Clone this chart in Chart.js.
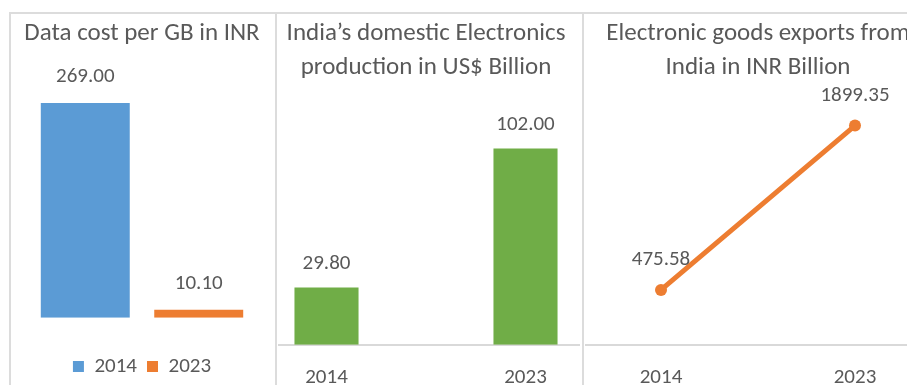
<!DOCTYPE html>
<html><head><meta charset="utf-8">
<script src="https://cdn.jsdelivr.net/npm/chart.js@4.4.1/dist/chart.umd.min.js"></script>
<style>
html,body{margin:0;padding:0;background:#fff;width:907px;height:385px;overflow:hidden;position:relative;}
.line{position:absolute;background:#dcdcdc;}
.clip{position:absolute;overflow:hidden;}
canvas{position:absolute;}
</style></head><body>
<div class="line" style="left:9px;top:12px;width:898px;height:2px"></div>
<div class="line" style="left:9px;top:12px;width:2px;height:373px"></div>
<div class="line" style="left:275px;top:12px;width:2px;height:373px"></div>
<div class="line" style="left:582px;top:12px;width:2px;height:373px"></div>
<div class="clip" style="left:11px;top:14px;width:264px;height:371px"><canvas id="c1" width="264" height="380" style="left:0;top:0"></canvas></div>
<div class="clip" style="left:278px;top:14px;width:302px;height:371px"><canvas id="c2" width="398" height="400" style="left:-51px;top:0"></canvas></div>
<div class="clip" style="left:585px;top:14px;width:322px;height:371px"><canvas id="c3" width="400" height="400" style="left:-27px;top:0"></canvas></div>
<script>
// ---- data ----
const costTitle = 'Data cost per GB in INR';
const costYears = ['2014', '2023'];
const costValues = [269.00, 10.10];

const prodTitle = ['India\u2019s domestic Electronics', 'production in US$ Billion'];
const prodYears = ['2014', '2023'];
const prodValues = [29.80, 102.00];

const exportTitle = ['Electronic goods exports from', 'India in INR Billion'];
const exportYears = ['2014', '2023'];
const exportValues = [475.58, 1899.35];

const BLUE = '#5B9BD5', ORANGE = '#ED7D31', GREEN = '#70AD47', TEXT = '#595959', AXIS = '#d9d9d9';
const FAMILY = "Carlito, Lato, 'Open Sans', sans-serif";
Chart.defaults.font.family = FAMILY;
Chart.defaults.color = TEXT;
Chart.defaults.animation = false;

const valueLabels = {
  id: 'valueLabels',
  afterDatasetsDraw(chart, args, opts) {
    const ctx = chart.ctx;
    ctx.save();
    ctx.font = '21px ' + FAMILY;
    ctx.fillStyle = TEXT;
    ctx.textAlign = 'center';
    ctx.textBaseline = 'middle';
    chart.data.datasets.forEach((ds, i) => {
      const meta = chart.getDatasetMeta(i);
      meta.data.forEach((el, j) => {
        ctx.fillText(Number(ds.data[j]).toFixed(2), el.x, el.y - opts.offset);
      });
    });
    ctx.restore();
  }
};

const titleOpts = (text, bottom) => ({
  display: true, text: text, color: TEXT,
  font: { size: 25, weight: 'normal', lineHeight: 34 / 25 },
  padding: { top: 3, bottom: bottom }
});

// Panel 1: grouped bars, one category
new Chart(document.getElementById('c1'), {
  type: 'bar',
  data: {
    labels: [''],
    datasets: costYears.map((y, i) => ({
      label: y, data: [costValues[i]],
      backgroundColor: i === 0 ? BLUE : ORANGE,
      categoryPercentage: 0.93, barPercentage: 0.784
    }))
  },
  options: {
    responsive: false, devicePixelRatio: 1,
    layout: { padding: { left: 9, right: 11, top: 0, bottom: 7 } },
    scales: {
      x: { display: false },
      y: { display: false, min: 0, max: 300 }
    },
    plugins: {
      title: titleOpts(costTitle, 27.3),
      legend: {
        position: 'bottom',
        title: { display: true, text: ' ', font: { size: 1 }, padding: { top: 0, bottom: 27 } },
        labels: { boxWidth: 11, boxHeight: 11, padding: 10, color: TEXT, font: { size: 21 } }
      },
      tooltip: { enabled: false },
      valueLabels: { offset: 26 }
    }
  },
  plugins: [valueLabels]
});

// Panel 2: bars
new Chart(document.getElementById('c2'), {
  type: 'bar',
  data: {
    labels: prodYears,
    datasets: [{ label: 'Production', data: prodValues, backgroundColor: GREEN,
      categoryPercentage: 1, barPercentage: 0.322 }]
  },
  options: {
    responsive: false, devicePixelRatio: 1,
    layout: { padding: { left: 0, right: 0, top: 0, bottom: 4 } },
    scales: {
      x: {
        grid: { display: false, drawTicks: false },
        border: { display: true, color: AXIS, width: 2 },
        ticks: { padding: 20, color: TEXT, font: { size: 21 } }
      },
      y: { display: false, min: 0, max: 120 }
    },
    plugins: {
      title: titleOpts(prodTitle, 29),
      legend: { display: false },
      tooltip: { enabled: false },
      valueLabels: { offset: 24 }
    }
  },
  plugins: [valueLabels]
});

// Panel 3: line
new Chart(document.getElementById('c3'), {
  type: 'line',
  data: {
    labels: exportYears,
    datasets: [{ label: 'Exports', data: exportValues, borderColor: ORANGE, backgroundColor: ORANGE,
      borderWidth: 5, pointRadius: 6, pointBorderWidth: 0, pointBackgroundColor: ORANGE,
      tension: 0, borderCapStyle: 'round' }]
  },
  options: {
    responsive: false, devicePixelRatio: 1,
    layout: { padding: { left: 0, right: 0, top: 0, bottom: 4 } },
    scales: {
      x: {
        offset: true,
        grid: { display: false, drawTicks: false },
        border: { display: true, color: AXIS, width: 2 },
        ticks: { padding: 20, color: TEXT, font: { size: 21 } }
      },
      y: { display: false, min: 0, max: 2000 }
    },
    plugins: {
      title: titleOpts(exportTitle, 29),
      legend: { display: false },
      tooltip: { enabled: false },
      valueLabels: { offset: 30 }
    }
  },
  plugins: [valueLabels]
});
</script>
</body></html>
